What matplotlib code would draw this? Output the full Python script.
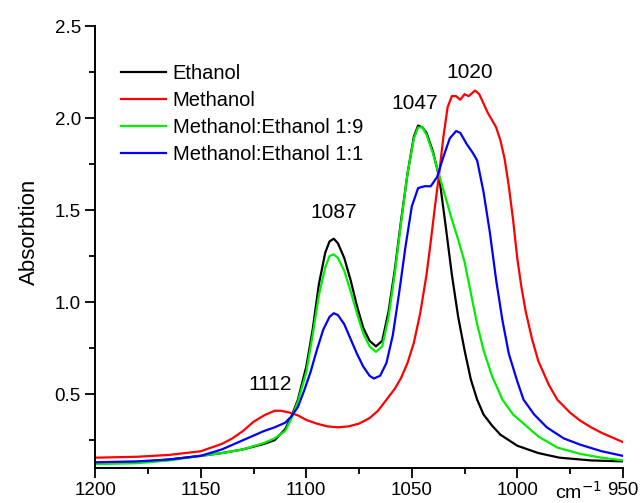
import matplotlib.pyplot as plt
from matplotlib.ticker import MultipleLocator

plt.rcParams['font.family'] = ['Liberation Sans', 'DejaVu Sans']

# Ethanol
wn_eth = [1200, 1180, 1165, 1150, 1140, 1130, 1120, 1115, 1110, 1107, 1104, 1100, 1097, 1094, 1091,
          1089, 1087, 1085, 1082, 1079, 1076, 1073, 1070, 1067, 1064, 1061, 1058, 1055, 1052, 1049,
          1047, 1045, 1043, 1040, 1037, 1034, 1031, 1028, 1025, 1022, 1019, 1016, 1012, 1008, 1000,
          990, 980, 965, 950]
a_eth = [0.125, 0.13, 0.145, 0.165, 0.18, 0.20, 0.23, 0.25, 0.31, 0.38, 0.47, 0.65, 0.85, 1.10, 1.27,
         1.33, 1.345, 1.32, 1.24, 1.12, 0.98, 0.86, 0.79, 0.76, 0.79, 0.95, 1.18, 1.45, 1.70, 1.90,
         1.96, 1.95, 1.92, 1.82, 1.68, 1.42, 1.15, 0.92, 0.74, 0.58, 0.47, 0.39, 0.33, 0.28, 0.22,
         0.18, 0.155, 0.14, 0.135]

# Methanol
wn_met = [1200, 1180, 1165, 1150, 1140, 1135, 1130, 1125, 1120, 1115, 1112, 1108, 1104, 1100, 1095,
          1090, 1085, 1080, 1075, 1070, 1066, 1062, 1058, 1055, 1052, 1049, 1046, 1043, 1041, 1039,
          1037, 1035, 1033, 1031, 1029, 1027, 1025, 1023, 1021, 1020, 1018, 1016, 1014, 1012, 1010,
          1008, 1006, 1004, 1002, 1000, 998, 996, 993, 990, 985, 981, 975, 970, 965, 960, 955, 950]
a_met = [0.155, 0.16, 0.17, 0.19, 0.23, 0.26, 0.30, 0.35, 0.385, 0.41, 0.41, 0.40, 0.385, 0.36, 0.34,
         0.325, 0.32, 0.325, 0.34, 0.37, 0.41, 0.47, 0.53, 0.59, 0.67, 0.78, 0.94, 1.15, 1.33, 1.52,
         1.70, 1.90, 2.06, 2.12, 2.12, 2.10, 2.13, 2.12, 2.14, 2.15, 2.13, 2.08, 2.03, 1.99, 1.95,
         1.88, 1.78, 1.63, 1.45, 1.24, 1.08, 0.95, 0.80, 0.68, 0.55, 0.47, 0.40, 0.355, 0.32, 0.29, 0.265, 0.24]

# Methanol:Ethanol 1:9
wn_19 = [1200, 1180, 1165, 1150, 1140, 1130, 1120, 1115, 1110, 1107, 1104, 1100, 1097, 1094, 1091,
         1089, 1087, 1085, 1082, 1079, 1076, 1073, 1070, 1067, 1064, 1061, 1058, 1055, 1052, 1049,
         1047, 1045, 1043, 1040, 1037, 1034, 1031, 1028, 1025, 1022, 1019, 1016, 1012, 1007, 1002,
         997, 990, 981, 970, 960, 950]
a_19 = [0.12, 0.125, 0.14, 0.165, 0.18, 0.20, 0.235, 0.26, 0.30, 0.37, 0.46, 0.62, 0.82, 1.04, 1.19,
        1.25, 1.26, 1.24, 1.17, 1.06, 0.94, 0.83, 0.76, 0.73, 0.76, 0.92, 1.16, 1.44, 1.70, 1.89,
        1.95, 1.95, 1.91, 1.81, 1.69, 1.57, 1.45, 1.34, 1.22, 1.05, 0.88, 0.74, 0.60, 0.47, 0.39,
        0.34, 0.27, 0.21, 0.175, 0.155, 0.14]

# Methanol:Ethanol 1:1
wn_11 = [1200, 1180, 1165, 1150, 1140, 1130, 1120, 1115, 1110, 1107, 1104, 1101, 1098, 1095, 1092,
         1089, 1087, 1085, 1082, 1079, 1076, 1073, 1070, 1068, 1065, 1062, 1059, 1056, 1053, 1050,
         1047, 1044, 1041, 1038, 1035, 1032, 1029, 1027, 1024, 1021, 1019, 1016, 1013, 1010, 1007,
         1004, 1000, 997, 992, 986, 978, 970, 960, 950]
a_11 = [0.13, 0.135, 0.145, 0.165, 0.20, 0.25, 0.30, 0.32, 0.345, 0.38, 0.43, 0.52, 0.62, 0.74, 0.85,
        0.92, 0.94, 0.93, 0.88, 0.80, 0.72, 0.65, 0.60, 0.585, 0.60, 0.67, 0.82, 1.05, 1.30, 1.52,
        1.62, 1.63, 1.63, 1.68, 1.79, 1.89, 1.93, 1.92, 1.86, 1.81, 1.77, 1.60, 1.38, 1.12, 0.90,
        0.72, 0.57, 0.47, 0.39, 0.32, 0.26, 0.225, 0.19, 0.165]

# peak labels
peak_text = ['1112', '1087', '1047', '1020']
peak_x = [1117, 1087, 1048.5, 1022.5]
peak_y = [0.55, 1.49, 2.08, 2.25]

fig = plt.figure(figsize=(6.4, 5.03), dpi=100)
ax = fig.add_axes([0.149, 0.07, 0.824, 0.878])

ax.plot(wn_eth, a_eth, color='black', lw=1.6, label='Ethanol')
ax.plot(wn_met, a_met, color='#ff0000', lw=1.6, label='Methanol')
ax.plot(wn_19, a_19, color='#00ee00', lw=1.6, label='Methanol:Ethanol 1:9')
ax.plot(wn_11, a_11, color='#0000ff', lw=1.6, label='Methanol:Ethanol 1:1')

# 峰位标注
for t, x, y in zip(peak_text, peak_x, peak_y):
    ax.text(x, y, t, ha='center', va='center', fontsize=15)

ax.set_xlim(1200, 950)
ax.set_ylim(0.1, 2.5)
ax.xaxis.set_major_locator(MultipleLocator(50))
ax.xaxis.set_minor_locator(MultipleLocator(25))
ax.yaxis.set_major_locator(MultipleLocator(0.5))
ax.yaxis.set_minor_locator(MultipleLocator(0.25))
ax.tick_params(which='major', length=7, width=1.3, labelsize=13.5)
ax.tick_params(which='minor', length=4, width=1.3)

for s in ['top', 'right']:
    ax.spines[s].set_visible(False)
for s in ['left', 'bottom']:
    ax.spines[s].set_linewidth(1.4)

ax.set_ylabel('Absorbtion', fontsize=16)
ax.yaxis.set_label_coords(-0.105, 0.535)
ax.text(971, -0.055, 'cm$^{-1}$', transform=ax.get_xaxis_transform(),
        ha='center', va='center', fontsize=14)

ax.legend(loc='upper left', bbox_to_anchor=(0.015, 0.955), frameon=False,
          fontsize=14.5, handlelength=2.2, handletextpad=0.35, labelspacing=0.4)

fig.savefig('out.png', dpi=100)
